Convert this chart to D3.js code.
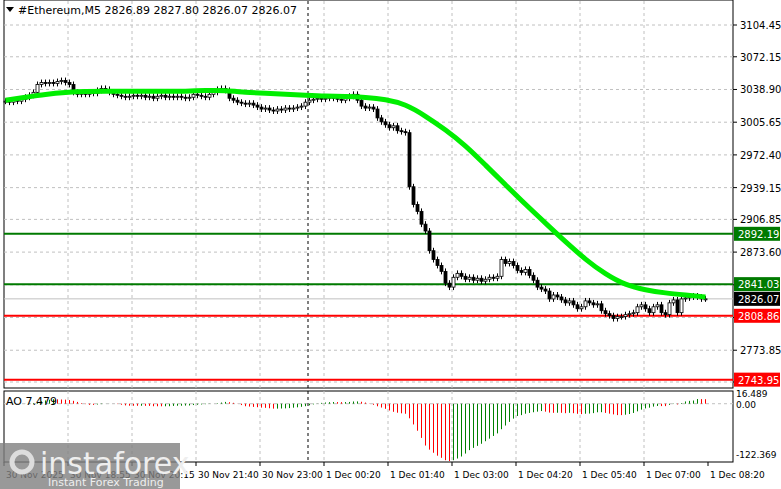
<!DOCTYPE html>
<html><head><meta charset="utf-8">
<script src="https://cdn.jsdelivr.net/npm/d3@7"></script>
<style>body{margin:0;background:#fff}text{font-family:Tahoma,"DejaVu Sans",sans-serif}</style>
</head><body>
<svg width="781" height="489"></svg>
<script>
// closes of the M5 bars, left to right
let closes = [3027,3026,3028,3027,3029,3031,3033,3036,3044,
  3046,3045,3046,3045,3047,3048,3046,3044,
  3036,3034,3035,3034,3036,3035,3038,3040,3039,3036,3034,
  3033,3032,3031,3032,3033,3032,3033,3031,3032,3030,3032,3033,3031,3032,3031,
  3032,3031,3030,3031,3034,3033,3032,3031,3034,3036,
  3039,3040,3038,3030,3028,
  3026,3025,3024,3025,3023,3021,3019,3020,
  3018,3017,3019,3018,3020,3019,3020,3021,3022,
  3026,3028,3029,3030,3029,3030,3031,3030,3029,3028,
  3030,3032,3034,3028,
  3022,3020,3021,3019,3010,
  3006,3003,3000,3002,2997,2996,2995,
  2940,2922,2915,2902,2895,2875,2866,2860,2854,2842,2838,2848,2852,2849,2846,
  2848,2845,2847,2844,2846,2848,2847,2849,2866,2862,2864,2860,2855,2853,2856,2850,
  2845,2838,2836,2834,2826,2830,2828,2825,2822,2824,2820,2816,2818,2824,2822,2820,
  2821,2814,2811,2809,2806,2808,2808,2810,2811,2812,2818,2820,2816,2812,2818,2820,
  2812,2810,2822,2825,2812,2826,2827,2828,2829,2828,2826,2826.07];
// moving average, one value every 5 bars
let maStep = 5;
let maValues = [3028,3031,3034,3036,3037,3037,3037,3037,3037,3037,3038,3038,3036,3035,3034,3033,
  3032,3032,3031,3029,3024,3012,2998,2982,2962,2942,2922,2903,2884,2866,2851,2840,2835,2832,2830,2828];
let priceTicks = [3104.45,3072.15,3038.90,3005.65,2972.40,2939.15,2906.85,2873.60,2840.35,2807.10,2773.85,2741.55];
let levels = [{v:2892.19,c:'#007a00'},{v:2841.03,c:'#007a00'},{v:2808.86,c:'#ff0000'},{v:2743.95,c:'#ff0000'}];
let lastPrice = 2826.07;
let timeLabels = ['30 Nov 2025','30 Nov 18:55','30 Nov 20:15','30 Nov 21:40','30 Nov 23:00','1 Dec 00:20','1 Dec 01:40','1 Dec 03:00','1 Dec 04:20','1 Dec 05:40','1 Dec 07:00','1 Dec 08:20'];
let timeIdx = [0,16,32,48,64,80,96,112,128,144,160,176];

let svg = d3.select('svg');
let left = 4, right = 733, mainBottom = 388, aoTop = 391, aoBottom = 462;

let x = d3.scaleLinear().domain([0, 1]).range([left, left + 4]);
let y = d3.scaleLinear().domain([3104.45, 2741.55]).range([25, 382]);

// bars
let bars = closes.map((c, i) => {
  let o = i ? closes[i - 1] : c;
  return { i: i, o: o, c: c, h: Math.max(o, c) + 3, l: Math.min(o, c) - 3 };
});

// AO = SMA5 - SMA34 of closes (window limited at the start)
function sma(i, n) { let s = closes.slice(Math.max(0, i - n + 1), i + 1); return d3.mean(s); }
let ao = closes.map((c, i) => sma(i, 5) - sma(i, 34));
let yAo = d3.scaleLinear().domain([16.489, -122.369]).range([396, 461]);

// frame
svg.append('rect').attr('x', left).attr('y', 0).attr('width', right - left).attr('height', mainBottom)
  .attr('fill', 'none').attr('stroke', '#000');
svg.append('rect').attr('x', left).attr('y', aoTop).attr('width', right - left).attr('height', aoBottom - aoTop)
  .attr('fill', 'none').attr('stroke', '#000');

let grid = svg.append('g').attr('stroke', '#c0c0c0').attr('stroke-dasharray', '3,3');
timeIdx.slice(1, -1).forEach(t => {
  grid.append('line').attr('x1', x(t)).attr('x2', x(t)).attr('y1', 1).attr('y2', mainBottom);
  grid.append('line').attr('x1', x(t)).attr('x2', x(t)).attr('y1', aoTop).attr('y2', aoBottom);
});
priceTicks.forEach(p => grid.append('line').attr('x1', left).attr('x2', right).attr('y1', y(p)).attr('y2', y(p)));
grid.append('line').attr('x1', left).attr('x2', right).attr('y1', yAo(0)).attr('y2', yAo(0));

// day separator
svg.append('line').attr('x1', x(76)).attr('x2', x(76)).attr('y1', 1).attr('y2', aoBottom)
  .attr('stroke', '#000').attr('stroke-dasharray', '3,3');

// levels
levels.forEach(l => svg.append('line').attr('x1', left).attr('x2', right).attr('y1', y(l.v)).attr('y2', y(l.v))
  .attr('stroke', l.c).attr('stroke-width', 2));
svg.append('line').attr('x1', left).attr('x2', right).attr('y1', y(lastPrice)).attr('y2', y(lastPrice))
  .attr('stroke', '#c0c0c0');

// candles
let cg = svg.append('g');
cg.selectAll('.wick').data(bars).enter().append('line')
  .attr('x1', d => x(d.i) + 1.5).attr('x2', d => x(d.i) + 1.5)
  .attr('y1', d => y(d.h)).attr('y2', d => y(d.l)).attr('stroke', '#000');
cg.selectAll('.body').data(bars).enter().append('rect')
  .attr('x', d => x(d.i)).attr('width', 3)
  .attr('y', d => y(Math.max(d.o, d.c))).attr('height', d => Math.max(1, Math.abs(y(d.o) - y(d.c))))
  .attr('fill', d => d.c >= d.o ? '#fff' : '#000').attr('stroke', '#000').attr('stroke-width', 0.8);

// moving average
svg.append('path').datum(maValues)
  .attr('d', d3.line().x((d, i) => x(i * maStep) + 1.5).y(d => y(d)).curve(d3.curveBasis))
  .attr('fill', 'none').attr('stroke', '#00ee00').attr('stroke-width', 5);

// AO histogram
svg.append('g').selectAll('line').data(ao).enter().append('line')
  .attr('x1', (d, i) => x(i) + 1.5).attr('x2', (d, i) => x(i) + 1.5)
  .attr('y1', yAo(0)).attr('y2', d => yAo(d))
  .attr('stroke', (d, i) => i && d < ao[i - 1] ? '#ff0000' : '#008000');

// right axis
let rt = svg.append('g').attr('font-size', 10);
priceTicks.forEach(p => {
  rt.append('line').attr('x1', right).attr('x2', right + 4).attr('y1', y(p)).attr('y2', y(p)).attr('stroke', '#000');
  if (levels.every(l => Math.abs(y(l.v) - y(p)) > 12) && Math.abs(y(lastPrice) - y(p)) > 12)
    rt.append('text').attr('x', right + 7).attr('y', y(p) + 4).text(p.toFixed(2));
});
function tag(v, bg, fg) {
  rt.append('rect').attr('x', right + 1).attr('y', y(v) - 7).attr('width', 46).attr('height', 14).attr('fill', bg);
  rt.append('text').attr('x', right + 5).attr('y', y(v) + 4).attr('fill', fg).text(v.toFixed(2));
}
levels.forEach(l => tag(l.v, l.c, '#fff'));
tag(lastPrice, '#000', '#fff');
[[16.489, '16.489', 1], [0, '0.00', 4], [-122.369, '-122.369', -3]].forEach(a =>
  rt.append('text').attr('x', right + 3).attr('y', yAo(a[0]) + a[2]).attr('font-size', 9).text(a[1]));

// time axis
let bt = svg.append('g').attr('font-size', 9);
timeIdx.forEach((t, k) => {
  bt.append('line').attr('x1', x(t)).attr('x2', x(t)).attr('y1', aoBottom).attr('y2', aoBottom + 4).attr('stroke', '#000');
  bt.append('text').attr('x', x(t) + 2).attr('y', aoBottom + 16).text(timeLabels[k]);
});

// header
svg.append('path').attr('d', 'M6,7 L14,7 L10,12 Z').attr('fill', '#000');
svg.append('text').attr('x', 18).attr('y', 14).attr('font-size', 11).text('#Ethereum,M5  2826.89 2827.80 2826.07 2826.07');
svg.append('text').attr('x', 6).attr('y', 405).attr('font-size', 11).text('AO 7.479');

// watermark
let wm = svg.append('g');
wm.append('rect').attr('x', 0).attr('y', 443).attr('width', 180).attr('height', 46).attr('fill', '#808080').attr('opacity', 0.8);
wm.append('circle').attr('cx', 22).attr('cy', 462).attr('r', 10).attr('fill', 'none').attr('stroke', '#ddd').attr('stroke-width', 5);
wm.append('text').attr('x', 40).attr('y', 474).attr('font-size', 30).attr('fill', '#eee').text('instaforex');
wm.append('text').attr('x', 48).attr('y', 486).attr('font-size', 11).attr('fill', '#eee').text('Instant Forex Trading');
</script>
</body></html>
